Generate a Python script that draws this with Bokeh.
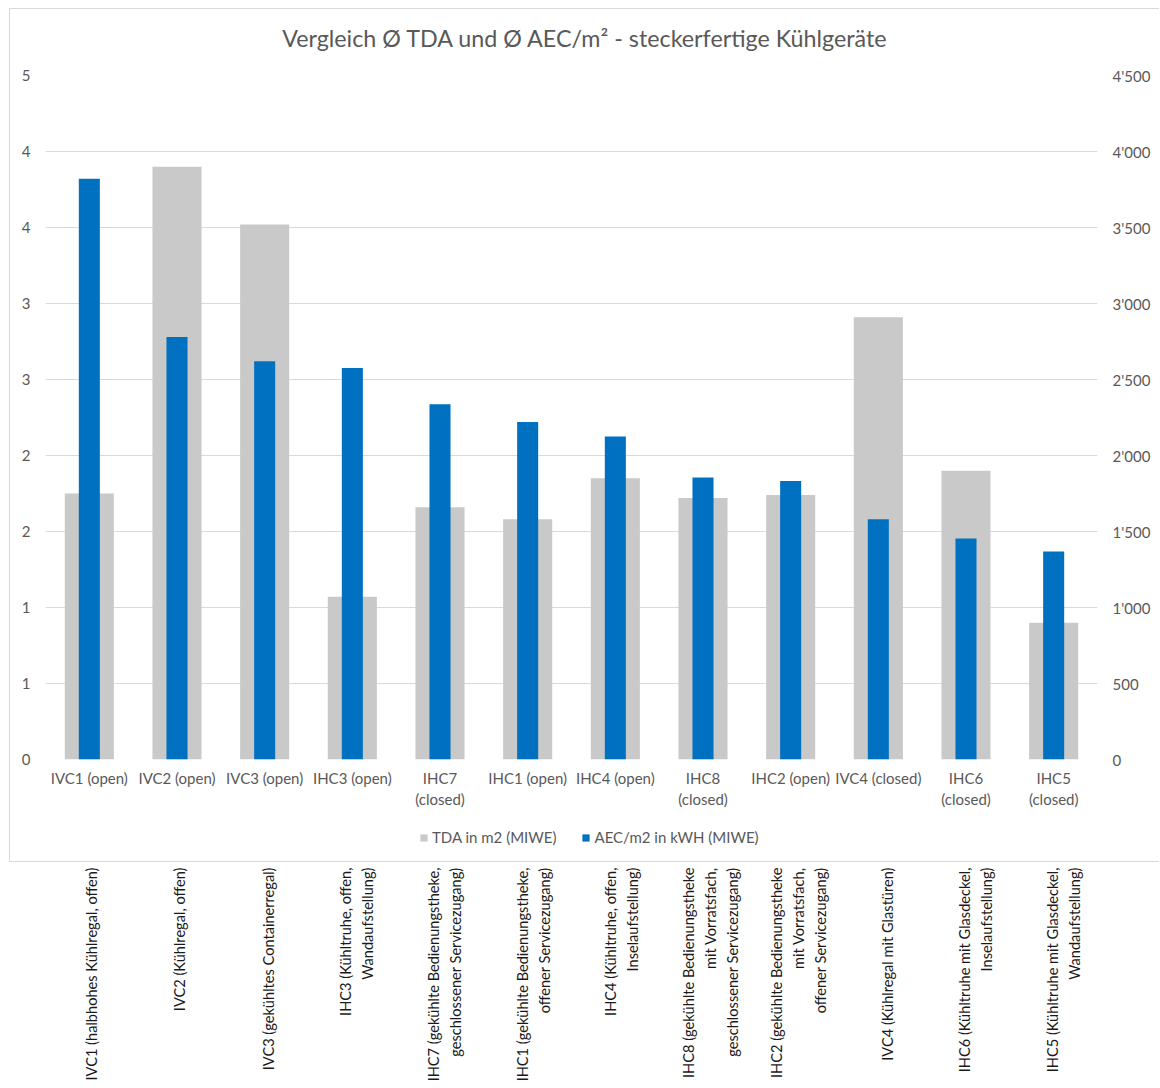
import math

import numpy as np
from bokeh.plotting import figure
from bokeh.models import (ColumnDataSource, FactorRange, Range1d, LinearAxis, FixedTicker,
                          CustomJSTickFormatter, Legend, LegendItem)
from bokeh.layouts import column
from bokeh.embed import file_html
from bokeh.resources import INLINE
from bokeh.core.properties import value

# --- data -------------------------------------------------------------------
categories = ["IVC1 (open)", "IVC2 (open)", "IVC3 (open)", "IHC3 (open)", "IHC7\n(closed)",
              "IHC1 (open)", "IHC4 (open)", "IHC8\n(closed)", "IHC2 (open)", "IVC4 (closed)",
              "IHC6\n(closed)", "IHC5\n(closed)"]

tda_m2 = [1.75, 3.90, 3.52, 1.07, 1.66, 1.58, 1.85, 1.72, 1.74, 2.91, 1.90, 0.90]
aec_per_m2 = [3820, 2780, 2620, 2576, 2337, 2221, 2125, 1855, 1833, 1581, 1454, 1368]

descriptions = [
    "IVC1 (halbhohes Kühlregal, offen)",
    "IVC2 (Kühlregal, offen)",
    "IVC3 (gekühltes Containerregal)",
    "IHC3 (Kühltruhe, offen,\nWandaufstellung)",
    "IHC7 (gekühlte Bedienungstheke,\ngeschlossener Servicezugang)",
    "IHC1 (gekühlte Bedienungstheke,\noffener Servicezugang)",
    "IHC4 (Kühltruhe, offen,\nInselaufstellung)",
    "IHC8 (gekühlte Bedienungstheke\nmit Vorratsfach,\ngeschlossener Servicezugang)",
    "IHC2 (gekühlte Bedienungstheke\nmit Vorratsfach,\noffener Servicezugang)",
    "IVC4 (Kühlregal mit Glastüren)",
    "IHC6 (Kühltruhe mit Glasdeckel,\nInselaufstellung)",
    "IHC5 (Kühltruhe mit Glasdeckel,\nWandaufstellung)",
]

left_ticks = [0, 0.5, 1, 1.5, 2, 2.5, 3, 3.5, 4, 4.5]
right_ticks = [0, 500, 1000, 1500, 2000, 2500, 3000, 3500, 4000, 4500]

title_text = "Vergleich Ø TDA und Ø AEC/m² - steckerfertige Kühlgeräte"
tda_name = "TDA in m2 (MIWE)"
aec_name = "AEC/m2 in kWH (MIWE)"

FONT = "Lato"
TEXT = "#595959"
GRID = "#d9d9d9"
GREY_BAR = "#c9c9c9"
BLUE_BAR = "#0070c0"

# frames of all stacked figures share these side borders
BORDER_L = 35
BORDER_R = 63

src = ColumnDataSource(dict(cat=categories, tda=tda_m2, aec=aec_per_m2))


def blank(fig):
    fig.axis.visible = False
    fig.grid.grid_line_color = None
    fig.outline_line_color = None
    fig.title.visible = False


# --- title strip (top of the chart box) -------------------------------------
t = figure(x_range=Range1d(0, 1), y_range=Range1d(0, 1), width=1150, height=55,
           output_backend="svg", toolbar_location=None,
           min_border_left=BORDER_L, min_border_right=BORDER_R, min_border_top=0, min_border_bottom=0,
           margin=(8, 0, 0, 9),
           styles={"border-top": f"1px solid {GRID}", "border-left": f"1px solid {GRID}"})
blank(t)
t.text(x=[0.5], y=[1], text=[title_text], x_offset=14, y_offset=28, text_align="center",
       text_baseline="middle", text_font=value(FONT), text_font_size="23.3px",
       text_color=TEXT)

# --- chart ------------------------------------------------------------------
p = figure(x_range=FactorRange(*categories), y_range=Range1d(0, 4.5),
           width=1150, height=756, output_backend="svg", toolbar_location=None,
           min_border_left=BORDER_L, min_border_right=BORDER_R, min_border_top=12, min_border_bottom=60,
           margin=(0, 0, 0, 9),
           styles={"border-left": f"1px solid {GRID}"})
p.extra_y_ranges = {"aec": Range1d(0, 4500)}
p.outline_line_color = None
p.title.visible = False

p.vbar(x="cat", top="tda", width=0.56, source=src, fill_color=GREY_BAR, line_color=None)
p.vbar(x="cat", top="aec", width=0.24, source=src, y_range_name="aec",
       fill_color=BLUE_BAR, line_color=None)

p.xgrid.grid_line_color = None
p.ygrid.ticker = FixedTicker(ticks=left_ticks)
p.ygrid.grid_line_color = GRID
p.ygrid.grid_line_width = 1


def style_axis(ax, standoff):
    ax.axis_line_color = None
    ax.major_tick_line_color = None
    ax.minor_tick_line_color = None
    ax.major_tick_out = 0
    ax.major_tick_in = 0
    ax.minor_tick_out = 0
    ax.minor_tick_in = 0
    ax.major_label_standoff = standoff
    ax.major_label_text_font = FONT
    ax.major_label_text_font_size = "15px"
    ax.major_label_text_color = TEXT


# left axis: half-unit steps shown as rounded whole numbers
ly = p.yaxis[0]
ly.ticker = FixedTicker(ticks=left_ticks)
ly.formatter = CustomJSTickFormatter(code="return Math.round(tick).toFixed(0);")
style_axis(ly, 15)

# right axis with apostrophe thousands separator
ry = LinearAxis(y_range_name="aec", ticker=FixedTicker(ticks=right_ticks),
                formatter=CustomJSTickFormatter(
                    code="return tick.toFixed(0).replace(/\\B(?=(\\d{3})+(?!\\d))/g, \"'\");"))
style_axis(ry, 15)
p.add_layout(ry, "right")

# category axis
style_axis(p.xaxis[0], 9)

# --- legend strip at the foot of the chart box ------------------------------
lg = figure(x_range=Range1d(0, 1), y_range=Range1d(0, 1), width=1150, height=43,
            output_backend="svg", toolbar_location=None,
            min_border_left=BORDER_L, min_border_right=BORDER_R, min_border_top=0, min_border_bottom=0,
            margin=(0, 0, 0, 9),
            styles={"border-left": f"1px solid {GRID}", "border-bottom": f"1px solid {GRID}"})
blank(lg)
key_src = ColumnDataSource(dict(x=[-5.0], top=[0.0]))
grey_key = lg.vbar(x="x", top="top", width=0.1, source=key_src, fill_color=GREY_BAR, line_color=None)
blue_key = lg.vbar(x="x", top="top", width=0.1, source=key_src, fill_color=BLUE_BAR, line_color=None)
legend = Legend(items=[LegendItem(label=tda_name, renderers=[grey_key]),
                       LegendItem(label=aec_name, renderers=[blue_key])],
                orientation="horizontal", location=(374, 16),
                glyph_width=9, glyph_height=9, label_standoff=4, spacing=25,
                label_text_font=FONT, label_text_font_size="15px", label_text_color=TEXT,
                border_line_color=None, background_fill_alpha=0, margin=0, padding=4)
lg.add_layout(legend, "center")

# --- descriptive labels in the sheet columns under the chart ----------------
col_pos = np.arange(len(descriptions)) + 0.5
desc_src = ColumnDataSource(dict(x=col_pos, desc=descriptions))
q = figure(x_range=Range1d(-0.13, 11.88), y_range=Range1d(0, 1),
           width=1160, height=222, output_backend="svg", toolbar_location=None,
           min_border_left=BORDER_L, min_border_right=BORDER_R, min_border_top=0, min_border_bottom=0)
blank(q)
q.text(x="x", y=1, text="desc", source=desc_src, angle=math.pi / 2, text_align="right",
       text_baseline="middle", y_offset=5, text_font=value(FONT), text_font_size="14.6px",
       text_color="#1a1a1a", text_line_height=1.3)

layout = column(t, p, lg, q)
open("out.html", "w").write(file_html(layout, INLINE))
